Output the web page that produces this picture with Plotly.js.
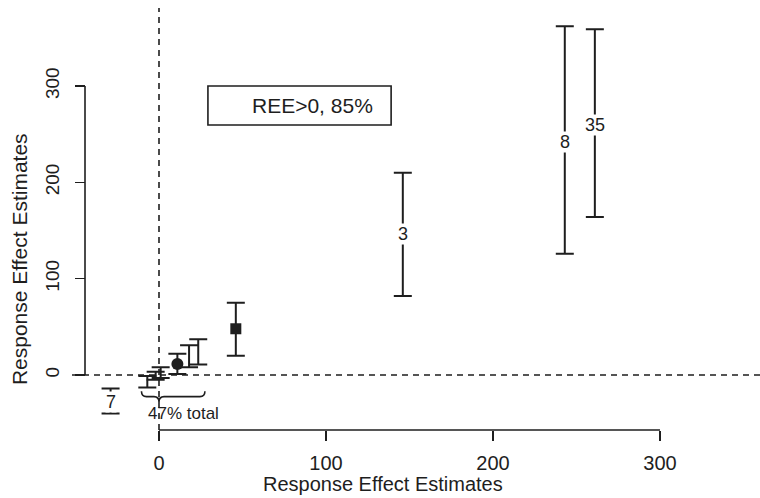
<!DOCTYPE html>
<html>
<head>
<meta charset="utf-8">
<script src="https://cdn.plot.ly/plotly-3.0.1.min.js"></script>
<style>
  html, body { margin: 0; padding: 0; background: #ffffff; }
  #chart { width: 760px; height: 498px; }
</style>
</head>
<body>
<div id="chart"></div>
<script>
// ---- data ----
const studyLabels = ['7', '', '', '', '', '', '', '', '3', '8', '35'];
const estX        = [-29, -7, -2, 1, 11, 18, 23.5, 46, 146, 243, 261];
const estY        = [-28, -6, -1, 2, 11.5, 19, 25, 48, 146, 242, 260];
const ciLow       = [-40, -13, -5, -3, 1, 8, 11, 20, 82, 126, 164];
const ciHigh      = [-14, -1, 3.5, 8, 22, 31, 37, 75, 210, 362, 359];
const pointGroup  = ['label', 'plain', 'plain', 'plain', 'circle', 'plain', 'plain', 'square', 'label', 'label', 'label'];
const axisTicks   = [0, 100, 200, 300];
const legendText  = 'REE>0, 85%';
const braceText   = '47% total';
const braceSpan   = [-10.5, 27.5];
const axisTitle   = 'Response Effect Estimates';

const ink = '#1e1e1e';
const FONT = 'Liberation Sans, Arial, Helvetica, sans-serif';

function pick(arr, g) { return arr.filter((_, i) => pointGroup[i] === g); }
function errTrace(g, marker) {
  const y = pick(estY, g);
  const lo = pick(ciLow, g), hi = pick(ciHigh, g);
  return {
    type: 'scatter', mode: 'markers',
    x: pick(estX, g), y: y,
    marker: marker,
    error_y: {
      type: 'data', symmetric: false,
      array: hi.map((h, i) => h - y[i]),
      arrayminus: lo.map((l, i) => y[i] - l),
      color: ink, thickness: 2, width: 9
    },
    hoverinfo: 'x+y', showlegend: false
  };
}

const traces = [
  errTrace('label', {size: 1, opacity: 0}),
  errTrace('plain', {size: 1, opacity: 0}),
  errTrace('circle', {size: 12, color: ink, symbol: 'circle'}),
  errTrace('square', {size: 11, color: ink, symbol: 'square'})
];

// labels sit on the bars, with a white patch interrupting the line
const annotations = [];
studyLabels.forEach((t, i) => {
  if (!t) return;
  annotations.push({
    xref: 'x', yref: 'y', x: estX[i], y: estY[i], text: t, showarrow: false,
    font: {family: FONT, size: 18, color: ink}, bgcolor: '#ffffff', borderpad: 0
  });
});

// legend-style box
const boxX = [29.3, 139], boxY = [259.5, 300];
annotations.push({
  xref: 'x', yref: 'y', x: 92, y: 279.5, text: legendText, showarrow: false,
  font: {family: FONT, size: 21, color: ink}
});

// brace caption
annotations.push({
  xref: 'x', yref: 'y', x: 14.5, y: -40, text: braceText, showarrow: false,
  font: {family: FONT, size: 17, color: ink}
});

// axis titles (R style, centred under/left of the axis spans)
annotations.push({
  xref: 'paper', yref: 'paper', x: 0.452, y: -0.1588, text: axisTitle, showarrow: false,
  font: {family: FONT, size: 20, color: ink}, xanchor: 'center', yanchor: 'bottom'
});
annotations.push({
  xref: 'paper', yref: 'paper', x: -0.077, y: 0.405, text: axisTitle, showarrow: false,
  textangle: -90, font: {family: FONT, size: 21, color: ink}, xanchor: 'center', yanchor: 'middle'
});

// brace path built from its span
const bx0 = braceSpan[0], bx1 = braceSpan[1], tip = 0;
const yTop = -17, yLine = -22.5, yDown = -28, r = 3;
const bracePath = `M${bx0},${yTop} Q${bx0},${yLine} ${bx0 + r},${yLine} L${tip - r},${yLine} Q${tip},${yLine} ${tip},${yDown} Q${tip},${yLine} ${tip + r},${yLine} L${bx1 - r},${yLine} Q${bx1},${yLine} ${bx1},${yTop}`;

const yAxisPos = (85 - 72) / 688;

const shapes = [
  // reference lines at zero
  {type: 'line', xref: 'paper', yref: 'y', x0: 0, x1: 1, y0: 0, y1: 0,
   line: {color: ink, width: 1.6, dash: '6px,5px'}},
  {type: 'line', xref: 'x', yref: 'paper', x0: 0, x1: 0, y0: 0, y1: 1,
   line: {color: ink, width: 1.6, dash: '6px,5px'}},
  // R-style axis lines spanning first to last tick
  {type: 'line', xref: 'x', yref: 'paper', x0: axisTicks[0], x1: axisTicks[axisTicks.length - 1], y0: 0, y1: 0,
   line: {color: ink, width: 1.6}},
  {type: 'line', xref: 'paper', yref: 'y', x0: yAxisPos, x1: yAxisPos, y0: axisTicks[0], y1: axisTicks[axisTicks.length - 1],
   line: {color: ink, width: 1.6}},
  // legend box
  {type: 'rect', xref: 'x', yref: 'y', x0: boxX[0], x1: boxX[1], y0: boxY[0], y1: boxY[1],
   line: {color: ink, width: 1.6}, fillcolor: 'rgba(0,0,0,0)'},
  // brace
  {type: 'path', xref: 'x', yref: 'y', path: bracePath, line: {color: ink, width: 1.6}}
];

const layout = {
  width: 760, height: 498,
  margin: {l: 72, r: 0, t: 8, b: 68, pad: 0},
  paper_bgcolor: '#ffffff', plot_bgcolor: '#ffffff',
  showlegend: false,
  font: {family: FONT, color: ink},
  xaxis: {
    range: [-52.1, 359.9], showgrid: false, zeroline: false, showline: false,
    tickmode: 'array', tickvals: axisTicks, ticktext: axisTicks.map(String),
    ticks: 'outside', ticklen: 10, tickwidth: 1.6, tickcolor: ink,
    ticklabelstandoff: 5,
    tickfont: {family: FONT, size: 20, color: ink}
  },
  yaxis: {
    range: [-57.1, 381], showgrid: false, zeroline: false, showline: false,
    anchor: 'free', position: yAxisPos,
    tickmode: 'array', tickvals: axisTicks, ticktext: axisTicks.map(String),
    ticks: 'outside', ticklen: 10, tickwidth: 1.6, tickcolor: ink, tickangle: -90,
    ticklabelstandoff: 8,
    tickfont: {family: FONT, size: 19, color: ink}
  },
  shapes: shapes,
  annotations: annotations
};

Plotly.newPlot('chart', traces, layout, {displayModeBar: false, staticPlot: true});
</script>
</body>
</html>
